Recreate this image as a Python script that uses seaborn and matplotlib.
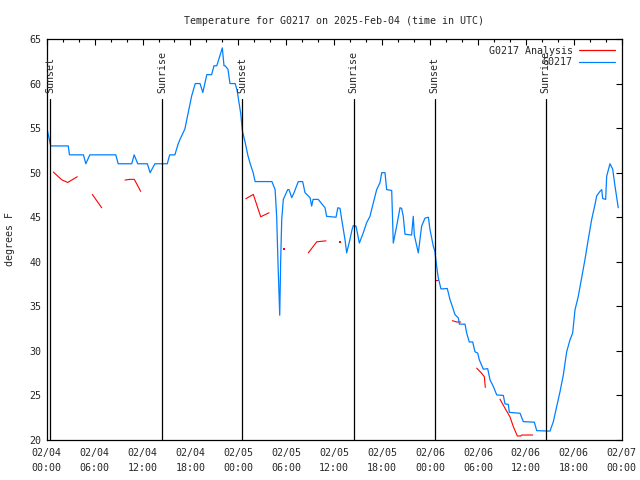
import numpy as np
import pandas as pd
import matplotlib
matplotlib.use('Agg')
import matplotlib.pyplot as plt
import matplotlib.dates as mdates
from matplotlib.lines import Line2D
import seaborn as sns

start = pd.Timestamp('2025-02-04 00:00')

# G0217 observations: hours after 02/04 00:00 UTC, degrees F
obs_hours = [0.0, 0.5, 2.7, 2.85, 4.6, 4.9, 5.4, 8.65, 8.95, 10.65, 10.95, 11.4, 12.6, 12.95,
             13.55, 15.1, 15.4, 16.05, 16.45, 16.7, 17.3, 17.55, 18.15, 18.6, 19.2, 19.55,
             20.05, 20.65, 20.95, 21.3, 21.99, 22.2, 22.33, 22.7, 22.95, 23.6, 23.85, 24.3,
             24.5, 24.85, 25.2, 25.45, 25.85, 26.1, 28.2, 28.6, 28.8, 28.95, 29.1, 29.18,
             29.3, 29.43, 29.63, 29.93, 30.18, 30.34, 30.68, 30.97, 31.5, 32.05, 32.35,
             32.97, 33.18, 33.35, 34.0, 34.85, 35.05, 36.23, 36.45, 36.73, 36.94, 37.35,
             37.56, 37.97, 38.23, 38.39, 38.73, 39.15, 39.64, 40.07, 40.48, 40.7, 41.32,
             41.74, 41.95, 42.36, 42.57, 43.2, 43.4, 43.82, 44.24, 44.44, 44.65, 44.86,
             45.69, 45.9, 46.03, 46.53, 46.74, 46.95, 47.37, 47.79, 48.0, 48.41, 48.6,
             48.83, 49.03, 49.37, 50.16, 50.5, 50.79, 51.13, 51.54, 51.67, 52.38, 52.59,
             52.91, 53.34, 53.63, 53.97, 54.17, 54.67, 55.22, 55.51, 55.93, 56.35, 57.18,
             57.39, 57.8, 57.93, 59.27, 59.68, 61.06, 61.36, 63.02, 63.44, 63.86, 64.27,
             64.69, 65.11, 65.53, 65.86, 66.15, 66.56, 66.99, 67.4, 67.81, 68.24, 68.65,
             68.87, 69.28, 69.5, 69.62, 69.99, 70.12, 70.53, 70.87, 71.16, 71.57]
obs_temp = [55.1, 53.0, 53.0, 52.0, 52.0, 51.0, 52.0, 52.0, 51.0, 51.0, 52.0, 51.0, 51.0, 50.0,
            51.0, 51.0, 52.0, 52.0, 53.2, 53.75, 54.9, 56.0, 58.6, 60.0, 60.0, 59.0,
            61.0, 61.0, 62.0, 62.0, 64.0, 62.0, 62.0, 61.6, 60.0, 60.0, 59.2, 56.6,
            54.7, 53.4, 51.9, 51.1, 50.0, 49.0, 49.0, 48.1, 45.0, 40.2, 36.1, 34.0,
            40.2, 44.75, 47.0, 47.6, 48.1, 48.1, 47.2, 47.75, 49.0, 49.0, 47.75,
            47.2, 46.25, 47.0, 47.0, 46.06, 45.1, 45.0, 46.06, 46.0, 44.75, 42.5,
            41.0, 42.5, 43.6, 44.06, 44.0, 42.1, 43.25, 44.4, 45.1, 45.9, 48.1,
            48.9, 50.0, 50.0, 48.1, 48.0, 42.1, 44.0, 46.06, 46.0, 45.1, 43.1,
            43.0, 45.1, 43.0, 41.0, 42.5, 44.0, 44.9, 45.0, 43.6, 41.75, 41.2,
            39.5, 38.2, 36.95, 37.0, 35.75, 35.0, 34.06, 33.7, 33.0, 33.0, 32.0,
            31.0, 31.0, 29.9, 29.75, 29.0, 27.95, 28.0, 26.75, 26.0, 25.06, 25.0,
            24.05, 24.0, 23.1, 23.0, 22.06, 22.0, 21.05, 21.0, 22.06, 23.75, 25.4,
            27.3, 29.9, 31.25, 32.0, 34.6, 36.1, 38.2, 40.25, 42.5, 44.75, 46.4,
            47.4, 47.9, 48.1, 47.1, 47.0, 49.6, 51.0, 50.4, 48.5, 46.06]

# G0217 Analysis, broken into pieces
ana_seg = [1, 1, 1, 1, 2, 2, 3, 3, 3, 3, 4, 4, 4, 4, 5, 5, 5, 6, 6, 7, 7, 7, 8, 8, 8, 8,
           9, 9, 9, 9, 9, 9, 9, 9]
ana_hours = [0.83, 1.88, 2.63, 3.83, 5.71, 6.89, 9.8, 10.43, 10.97, 11.77,
             24.92, 25.87, 26.8, 27.84, 32.76, 33.81, 34.97, 48.6, 49.03,
             50.79, 51.34, 51.84, 53.84, 54.38, 54.8, 54.92,
             56.76, 57.39, 58.01, 58.43, 58.93, 59.35, 59.48, 60.86]
ana_temp = [50.07, 49.2, 48.9, 49.55, 47.56, 46.06, 49.17, 49.25, 49.25, 47.9,
            47.07, 47.56, 45.05, 45.5, 41.0, 42.24, 42.35, 38.0, 38.0,
            33.39, 33.24, 33.24, 28.07, 27.57, 27.1, 25.9,
            24.58, 23.56, 22.6, 21.5, 20.45, 20.45, 20.56, 20.56]
# single analysis values
ana_dot_hours = [29.75, 36.73]
ana_dot_temp = [41.45, 42.24]

sun_names = ['Sunset', 'Sunrise', 'Sunset', 'Sunrise', 'Sunset', 'Sunrise']
sun_times = ['2025-02-04 00:28', '2025-02-04 14:28', '2025-02-05 00:30',
             '2025-02-05 14:27', '2025-02-06 00:36', '2025-02-06 14:30']

obs = pd.DataFrame({'time': start + pd.to_timedelta(obs_hours, unit='h'), 'temp': obs_temp})
ana = pd.DataFrame({'time': start + pd.to_timedelta(ana_hours, unit='h'), 'temp': ana_temp,
                    'seg': ana_seg})
dots = pd.DataFrame({'time': start + pd.to_timedelta(ana_dot_hours, unit='h'), 'temp': ana_dot_temp})

sns.set_style('white')
plt.rcParams['font.family'] = ['DejaVu Sans Mono']
fs = 7.2

fig = plt.figure(figsize=(6.4, 4.8), dpi=100)
ax = fig.add_axes([46.7 / 640, 1 - 440 / 480, 575 / 640, 401 / 480])

red = '#ff0000'
blue = '#0080ff'
sns.lineplot(data=ana, x='time', y='temp', units='seg', estimator=None, color=red,
             lw=0.8, ax=ax)
sns.scatterplot(data=dots, x='time', y='temp', color=red, s=2, marker='s',
                linewidth=0, ax=ax)
sns.lineplot(data=obs, x='time', y='temp', color=blue, lw=0.9, ax=ax)

for name, t in zip(sun_names, sun_times):
    t = pd.Timestamp(t)
    ax.axvline(t, ymin=0, ymax=0.85, color='black', lw=0.9)
    ax.text(t, 0.866, name, rotation=90, ha='center', va='bottom', fontsize=fs,
            transform=ax.get_xaxis_transform())

ax.set_xlim(start, start + pd.Timedelta(hours=72))
ax.set_ylim(20, 65)
ax.set_yticks(range(20, 66, 5))
ax.xaxis.set_major_locator(mdates.HourLocator(byhour=range(0, 24, 6)))
ax.xaxis.set_minor_locator(mdates.HourLocator(byhour=range(0, 24, 2)))
ax.xaxis.set_major_formatter(mdates.DateFormatter('%m/%d\n%H:%M'))
ax.tick_params(which='both', direction='in', top=True, right=True, labelsize=fs,
               color='black', width=0.8)
ax.tick_params(which='major', length=4, pad=4)
ax.tick_params(axis='x', which='major', pad=6)
ax.tick_params(which='minor', length=2.2)
for lbl in ax.get_xticklabels():
    lbl.set_linespacing(1.55)
for s in ax.spines.values():
    s.set_color('black')
    s.set_linewidth(0.9)

ax.set_xlabel('')
ax.set_ylabel('degrees F', fontsize=fs)
ax.yaxis.set_label_coords(-0.055, 0.5)
ax.set_title('Temperature for G0217 on 2025-Feb-04 (time in UTC)', fontsize=fs, pad=11)

handles = [Line2D([], [], color=red, lw=0.9), Line2D([], [], color=blue, lw=0.9)]
ax.legend(handles, ['G0217 Analysis', 'G0217'], loc='upper right', frameon=False,
          markerfirst=False, fontsize=fs, handlelength=3.6, handletextpad=0.6,
          labelspacing=0.15, borderaxespad=0.3)

fig.savefig('out.png', dpi=100)
